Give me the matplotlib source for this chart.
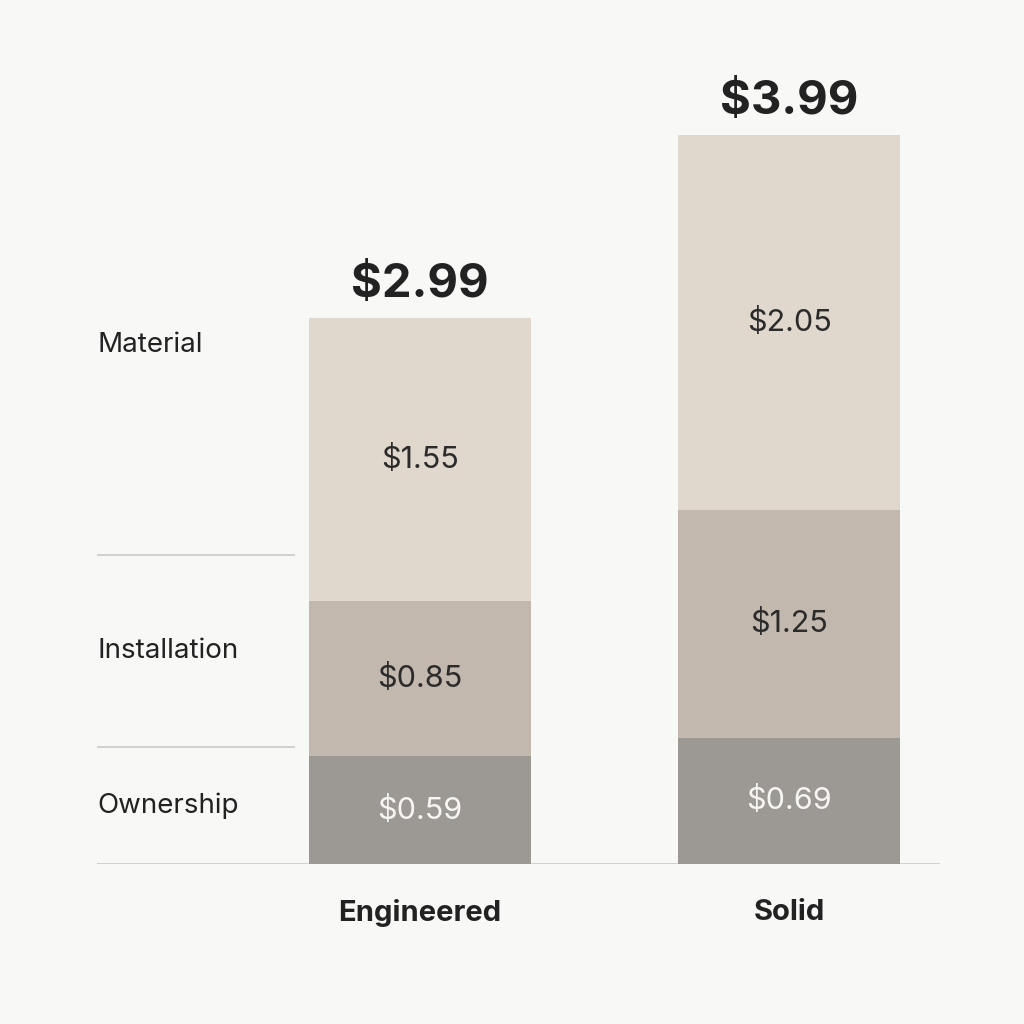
import matplotlib.pyplot as plt
import numpy as np

plt.rcParams['font.family'] = ['Inter', 'DejaVu Sans']

# data
types = ["Engineered", "Solid"]
components = ["Ownership", "Installation", "Material"]
ownership = [0.59, 0.69]
installation = [0.85, 1.25]
material = [1.55, 2.05]
totals = [2.99, 3.99]

colors = ["#9c9894", "#c3b8ad", "#e0d7cd"]
label_colors = ["#f7f5f2", "#2b2b2b", "#2b2b2b"]
bg = "#f8f8f7"

fig = plt.figure(figsize=(10.24, 10.24), dpi=100, facecolor=bg)
# axes spans from x=97px to 940px, baseline at 864px
ax = fig.add_axes([97 / 1024, 1 - 864 / 1024, 843 / 1024, 864 / 1024])
ax.set_facecolor(bg)

x = np.arange(len(types))
ax.set_xlim(-0.875, 1.409)
ax.set_ylim(0, 4.73)
width = 0.6

series = [ownership, installation, material]
bottom = np.zeros(len(types))
for vals, col, lc in zip(series, colors, label_colors):
    vals = np.array(vals)
    ax.bar(x, vals, width, bottom=bottom, color=col, edgecolor="none", zorder=2)
    for xi, b, v in zip(x, bottom, vals):
        ax.text(xi, b + v / 2, f"${v:.2f}", ha="center", va="center",
                fontsize=22, color=lc, zorder=3)
    bottom = bottom + vals

# totals on top
for xi, t in zip(x, totals):
    ax.annotate(f"${t:.2f}", (xi, t), xytext=(0, 8), textcoords="offset points",
                ha="center", va="bottom", fontsize=34, fontweight="bold",
                color="#222222")

# row labels and separators on the left
own = np.array(ownership)
inst = np.array(installation)
sep1 = own.mean()
sep2 = (own + inst).mean()
top = max(totals)
ax.plot([-0.875, -0.34], [sep1, sep1], color="#cbcbcb", lw=1.2, zorder=1)
ax.plot([-0.875, -0.34], [sep2, sep2], color="#cbcbcb", lw=1.2, zorder=1)
ax.axhline(0, color="#cbcbcb", lw=1.2, zorder=1)
row_y = [sep1 / 2, (sep1 + sep2) / 2, (sep2 + top) / 2]
for name, ry in zip(components, row_y):
    ax.text(-0.875, ry, name, ha="left", va="center", fontsize=20, color="#222222")

# category labels
for xi, name in zip(x, types):
    ax.annotate(name, (xi, 0), xytext=(0, -35), textcoords="offset points",
                ha="center", va="center", fontsize=21, fontweight="bold",
                color="#222222", annotation_clip=False)

ax.axis("off")
fig.savefig("out.png", dpi=100, facecolor=bg)
